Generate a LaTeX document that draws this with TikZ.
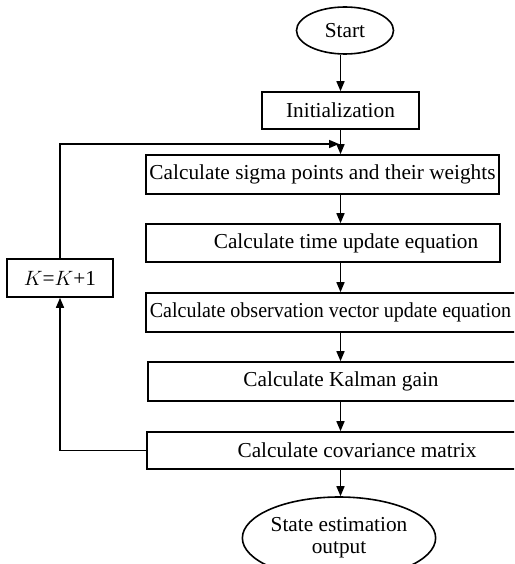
\documentclass[tikz,border=0pt]{standalone}
\usepackage{fontspec}
\setmainfont{Liberation Serif}
\usetikzlibrary{shapes.geometric,arrows.meta}
\begin{document}
\begin{tikzpicture}[x=1pt,y=-1pt,
  every node/.style={font=\fontsize{21.3}{22}\selectfont},
  stepbox/.style={draw,line width=1.6pt,rectangle,inner sep=0pt},
  term/.style={draw,line width=1.6pt,ellipse,inner sep=0pt,align=center},
  arr/.style={line width=1.5pt,-{Triangle[length=10pt,width=8pt]}},
  ln/.style={line width=1.5pt}]
\useasboundingbox (0,0) rectangle (514,564);
\clip (0,0) rectangle (514,564);
\node[term,minimum width=97pt,minimum height=47pt] (start) at (345,30.5) {Start};
\node[stepbox,minimum width=157pt,minimum height=37pt] (init) at (340.5,110.5) {Initialization};
\node[stepbox,minimum width=353pt,minimum height=39pt] (sigma) at (322.5,174.5) {Calculate sigma points and their weights};
\node[stepbox,minimum width=354pt,minimum height=38pt] (time) at (323,243) {\hspace*{46pt}Calculate time update equation};
\node[stepbox,minimum width=372pt,minimum height=39pt] (obs) at (332,312.5) {\hspace*{-3pt}\scalebox{0.94}[1]{Calculate observation vector update equation}};
\node[stepbox,minimum width=372pt,minimum height=39pt] (kal) at (334,381.5) {\hspace*{14pt}Calculate Kalman gain};
\node[stepbox,minimum width=373pt,minimum height=37pt] (cov) at (333.5,450.5) {\hspace*{47pt}Calculate covariance matrix};
\node[term,minimum width=152pt,minimum height=82pt] (out) at (339,538) {State estimation\\output};
\node[stepbox,minimum width=106pt,minimum height=38pt] (K) at (60,278) {$K$=$K$+1};
\coordinate (loopc) at (339,144);
\draw[arr] (start.south -| init.south) -- (init.north);
\draw[arr] (init.south) -- (init.south |- sigma.north);
\draw[arr] (init.south |- sigma.south) -- (init.south |- time.north);
\draw[arr] (init.south |- time.south) -- (init.south |- obs.north);
\draw[arr] (init.south |- obs.south) -- (init.south |- kal.north);
\draw[arr] (init.south |- kal.south) -- (init.south |- cov.north);
\draw[arr] (init.south |- cov.south) -- (init.south |- out.north);
\draw[arr] (cov.west) -| (K.south);
\draw[arr] (K.north) |- (loopc);
\end{tikzpicture}
\end{document}
